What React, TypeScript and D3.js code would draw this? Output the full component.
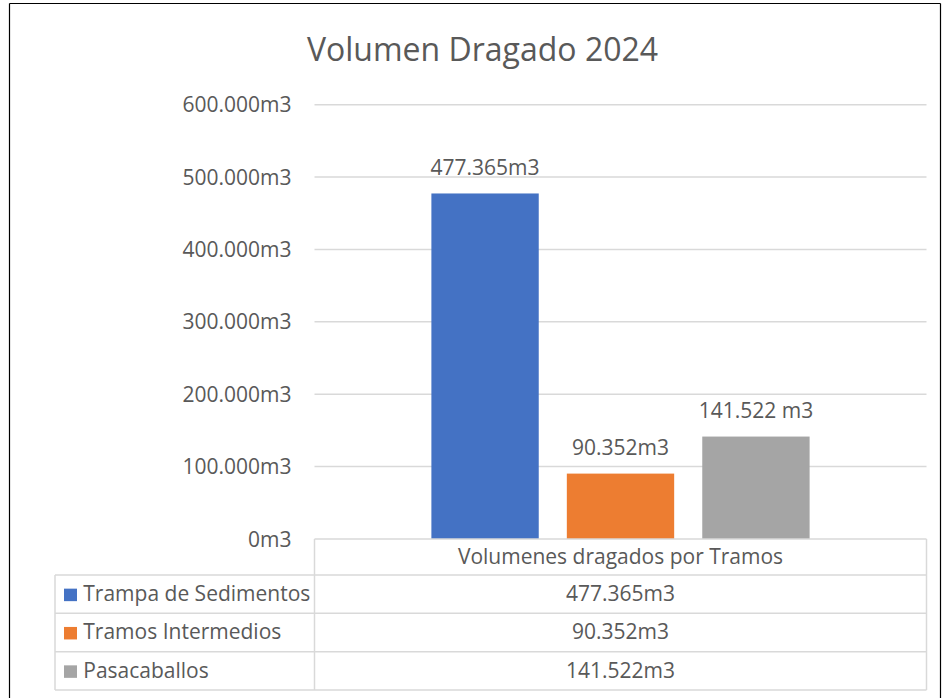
import React from "react";
import * as d3 from "d3";

const title = "Volumen Dragado 2024";
const category = "Volumenes dragados por Tramos";
const series = ["Trampa de Sedimentos", "Tramos Intermedios", "Pasacaballos"];
const values = [477365, 90352, 141522];
const barLabels = ["477.365m3", "90.352m3", "141.522 m3"];
const tableLabels = ["477.365m3", "90.352m3", "141.522m3"];
const colors = ["#4472C4", "#ED7D31", "#A5A5A5"];
const yTicks = [0, 100000, 200000, 300000, 400000, 500000, 600000];

const W = 943;
const H = 698;
const FONT = "'Open Sans', 'Noto Sans', sans-serif";
const TEXT = "#595959";
const GRID = "#D9D9D9";

const locale = d3.formatLocale({ decimal: ",", thousands: ".", grouping: [3], currency: ["", ""] });
const fmt = (v: number) => locale.format(",")(v) + "m3";

export default function App() {
  const plotLeft = 314.5;
  const plotRight = 926.5;
  const plotTop = 104.7;
  const plotBottom = 539;

  const y = d3.scaleLinear().domain([0, 600000]).range([plotBottom, plotTop]);
  const x0 = d3.scaleBand().domain([category]).range([plotLeft, plotRight]).paddingInner(0).paddingOuter(0);
  const groupW = x0.bandwidth() * 0.618;
  const gx = (x0(category) as number) + (x0.bandwidth() - groupW) / 2;
  const x1 = d3.scaleBand().domain(series).range([gx, gx + groupW]).paddingInner(0.2074).paddingOuter(0);

  const tableLeft = 55;
  const headerTop = plotBottom;
  const rowTops = [575, 613.3, 651.7];
  const rowH = 38.3;
  const tableBottom = rowTops[2] + rowH;
  const colMid = (plotLeft + plotRight) / 2;

  return (
    <div style={{ position: "absolute", left: 0, top: 0 }}>
      <svg width={W} height={H} style={{ display: "block", background: "#fff" }}>
        <rect x={0} y={0} width={W} height={H} fill="#fff" />
        {/* outer frame */}
        <line x1={9.5} x2={9.5} y1={3.5} y2={H} stroke="#000" strokeWidth={1.2} />
        <line x1={9.5} x2={940.5} y1={3.5} y2={3.5} stroke="#000" strokeWidth={1.2} />
        <line x1={940.5} x2={940.5} y1={3.5} y2={H} stroke="#000" strokeWidth={1.2} />

        <text x={482.5} y={61} textAnchor="middle" fontFamily={FONT} fontSize={32} fill={TEXT}>
          {title}
        </text>

        {/* gridlines and y labels */}
        {yTicks.map((t) => (
          <g key={t}>
            {t !== 0 && (
              <line x1={plotLeft} x2={plotRight} y1={y(t)} y2={y(t)} stroke={GRID} strokeWidth={1.5} />
            )}
            <text x={291.5} y={y(t) + 7.5} textAnchor="end" fontFamily={FONT} fontSize={21} fill={TEXT}>
              {fmt(t)}
            </text>
          </g>
        ))}

        {/* bars */}
        {series.map((s, i) => (
          <g key={s}>
            <rect
              x={x1(s) as number}
              y={y(values[i])}
              width={x1.bandwidth()}
              height={plotBottom - y(values[i])}
              fill={colors[i]}
            />
            <text
              x={(x1(s) as number) + x1.bandwidth() / 2}
              y={y(values[i]) - 18.5}
              textAnchor="middle"
              fontFamily={FONT}
              fontSize={21}
              fill={TEXT}
            >
              {barLabels[i]}
            </text>
          </g>
        ))}

        {/* data table */}
        <g stroke={GRID} strokeWidth={1.5} fill="none">
          <line x1={plotLeft} x2={plotRight} y1={headerTop} y2={headerTop} />
          <line x1={plotLeft} x2={plotLeft} y1={headerTop} y2={tableBottom} />
          <line x1={plotRight} x2={plotRight} y1={headerTop} y2={tableBottom} />
          <line x1={tableLeft} x2={tableLeft} y1={rowTops[0]} y2={tableBottom} />
          {rowTops.map((r) => (
            <line key={r} x1={tableLeft} x2={plotRight} y1={r} y2={r} />
          ))}
          <line x1={tableLeft} x2={plotRight} y1={tableBottom} y2={tableBottom} />
        </g>
        <text x={colMid} y={564} textAnchor="middle" fontFamily={FONT} fontSize={21} fill={TEXT}>
          {category}
        </text>
        {series.map((s, i) => {
          const base = rowTops[i] + rowH / 2 + 7;
          return (
            <g key={s}>
              <rect x={64} y={base - 12.5} width={13} height={12.5} fill={colors[i]} />
              <text x={83.3} y={base} fontFamily={FONT} fontSize={21} fill={TEXT}>
                {s}
              </text>
              <text x={colMid} y={base} textAnchor="middle" fontFamily={FONT} fontSize={21} fill={TEXT}>
                {tableLabels[i]}
              </text>
            </g>
          );
        })}
      </svg>
    </div>
  );
}
